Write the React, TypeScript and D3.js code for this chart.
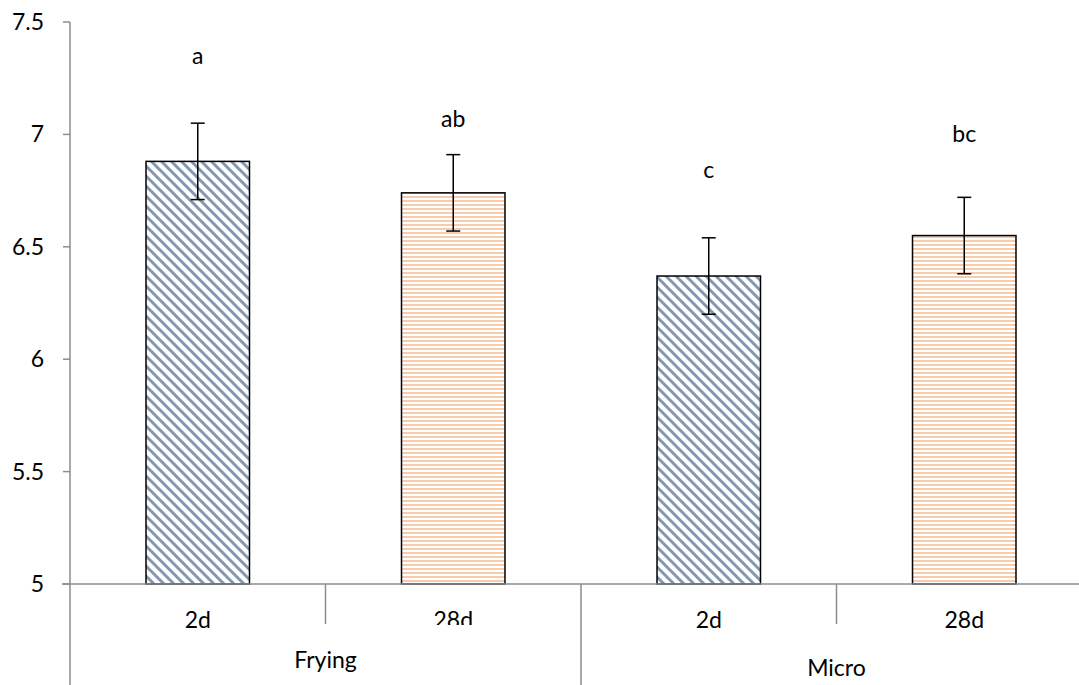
import * as d3 from "d3";

const groups = ["Frying", "Micro"];
const days = ["2d", "28d", "2d", "28d"];
const means = [6.88, 6.74, 6.37, 6.55];
const errs = [0.17, 0.17, 0.17, 0.17];
const letters = ["a", "ab", "c", "bc"];
const letterPos = [7.35, 7.07, 6.84, 7.0];
const yTicks = [5, 5.5, 6, 6.5, 7, 7.5];

const W = 1079, H = 685;
const left = 70, baseY = 584, topY = 22;
const catW = 255.5;

export default function App() {
  const x = d3.scaleBand<number>()
    .domain(d3.range(days.length))
    .range([left, left + catW * days.length])
    .paddingInner(0)
    .paddingOuter(0);
  const y = d3.scaleLinear().domain([5, 7.5]).range([baseY, topY]);
  const bw = x.bandwidth() * 0.405;
  const axisCol = "#8c8c8c";
  const font = "Lato, 'Open Sans', sans-serif";
  const fs = 23;

  return (
    <svg width={W} height={H} style={{ position: "absolute", left: 0, top: 0, background: "#fff" }}>
      <defs>
        <pattern id="diag" width="10" height="10" patternUnits="userSpaceOnUse">
          <rect width="10" height="10" fill="#fff" />
          <path d="M-2,-2 L12,12 M-2,8 L2,12 M8,-2 L12,2" stroke="#8497b0" strokeWidth="3" />
        </pattern>
        <pattern id="horiz" width="8" height="4" patternUnits="userSpaceOnUse">
          <rect width="8" height="4" fill="#fff" />
          <rect y="0" width="8" height="2" fill="#f8cbad" />
        </pattern>
      </defs>

      {/* y axis */}
      <line x1={left} x2={left} y1={topY} y2={H} stroke={axisCol} strokeWidth={1.5} />
      {yTicks.map(t => (
        <g key={t}>
          <line x1={left - 7} x2={left} y1={y(t)} y2={y(t)} stroke={axisCol} strokeWidth={1.5} />
          <text x={44} y={y(t)} dy="0.35em" textAnchor="end" fontSize={fs} fontFamily={font} fill="#000">
            {t}
          </text>
        </g>
      ))}

      {/* bars */}
      {means.map((m, i) => {
        const cx = x(i)! + x.bandwidth() / 2;
        return (
          <g key={i}>
            <rect x={cx - bw / 2} y={y(m)} width={bw} height={baseY - y(m)}
              fill={i % 2 === 0 ? "url(#diag)" : "url(#horiz)"} stroke="#000" strokeWidth={1.5} />
            <line x1={cx} x2={cx} y1={y(m + errs[i])} y2={y(m - errs[i])} stroke="#000" strokeWidth={1.5} />
            <line x1={cx - 7} x2={cx + 7} y1={y(m + errs[i])} y2={y(m + errs[i])} stroke="#000" strokeWidth={1.5} />
            <line x1={cx - 7} x2={cx + 7} y1={y(m - errs[i])} y2={y(m - errs[i])} stroke="#000" strokeWidth={1.5} />
            <text x={cx} y={y(letterPos[i])} dy="0.35em" textAnchor="middle" fontSize={fs} fontFamily={font}>
              {letters[i]}
            </text>
          </g>
        );
      })}

      {/* category axis */}
      <line x1={left - 8} x2={W} y1={baseY} y2={baseY} stroke={axisCol} strokeWidth={1.5} />
      {days.map((d, i) => (
        <g key={i}>
          {i % 2 === 1 && (
            <line x1={x(i)} x2={x(i)} y1={baseY} y2={624} stroke={axisCol} strokeWidth={1.5} />
          )}
          {i % 2 === 0 && i > 0 && (
            <line x1={x(i)} x2={x(i)} y1={baseY} y2={H} stroke={axisCol} strokeWidth={1.5} />
          )}
          <text x={x(i)! + x.bandwidth() / 2} y={620} dy="0.35em" textAnchor="middle" fontSize={fs} fontFamily={font}>
            {d}
          </text>
        </g>
      ))}
      {/* the second label is cut off in the original */}
      <rect x={x(1)! + 40} y={625} width={catW - 80} height={14} fill="#fff" />
      {groups.map((g, gi) => (
        <text key={g} x={x(gi * 2 + 1)} y={gi === 0 ? 660 : 668} dy="0.35em" textAnchor="middle"
          fontSize={fs} fontFamily={font}>
          {g}
        </text>
      ))}
    </svg>
  );
}
